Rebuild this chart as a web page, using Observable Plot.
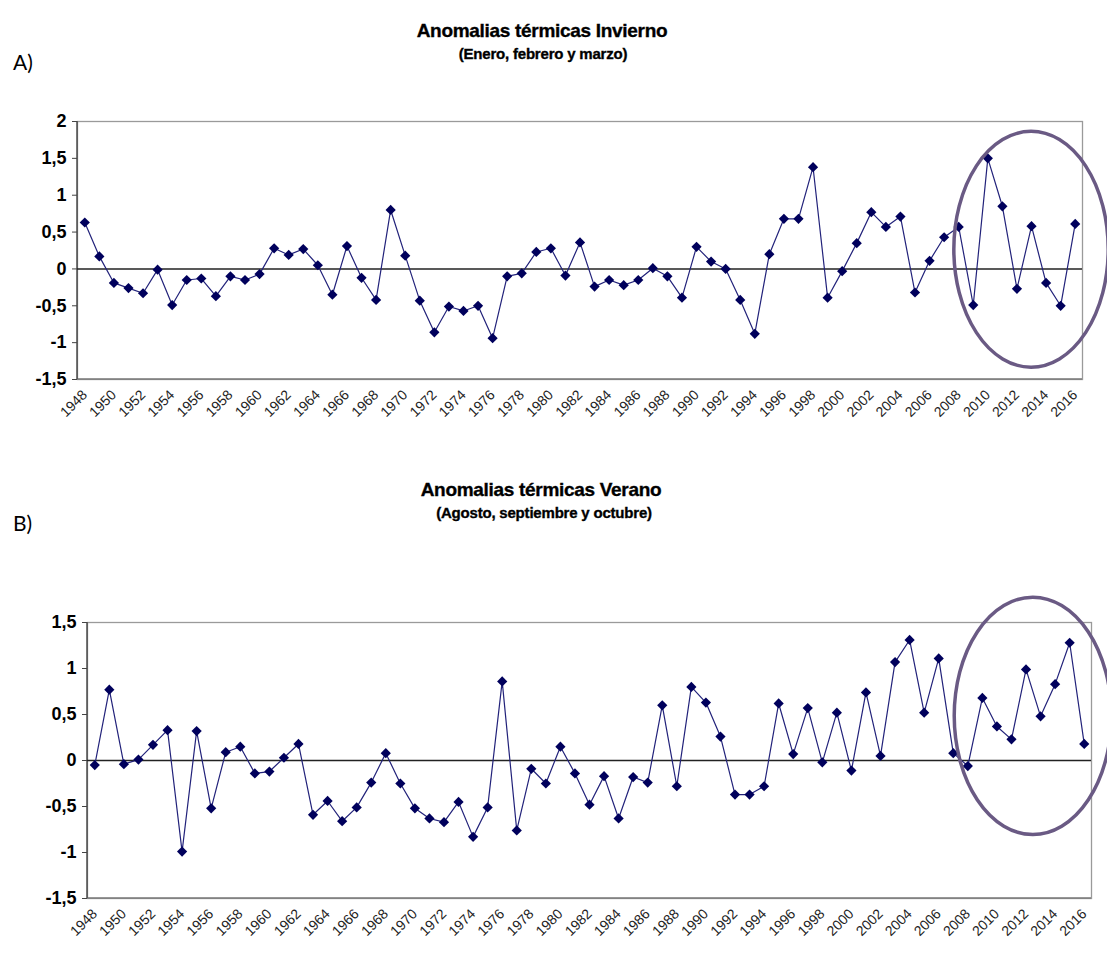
<!DOCTYPE html>
<html><head><meta charset="utf-8">
<script src="https://cdn.jsdelivr.net/npm/d3@7"></script>
<script src="https://cdn.jsdelivr.net/npm/@observablehq/plot@0.6"></script>
<style>
body{margin:0;background:#fff;}
#page{position:relative;width:1107px;height:956px;overflow:hidden;background:#fff;}
.t{position:absolute;white-space:nowrap;transform:translateX(-50%);font-family:"Liberation Sans",Arial,sans-serif;font-weight:bold;color:#000;line-height:1;-webkit-text-stroke:0.35px #000;}
.lab{position:absolute;font-family:Lato,"Open Sans",sans-serif;font-size:21px;color:#000;line-height:1;}
.chart{position:absolute;left:0;}
</style></head><body>
<div id="page">
  <div class="lab" id="labA" style="left:13px;top:51px"></div>
  <div class="t" id="titleA" style="left:542px;top:21px;font-size:19px;letter-spacing:-0.3px"></div>
  <div class="t" id="subA" style="left:543px;top:46px;font-size:15px;letter-spacing:-0.2px"></div>
  <div class="chart" id="chartA" style="top:100px"></div>
  <div class="lab" id="labB" style="left:13px;top:512px"></div>
  <div class="t" id="titleB" style="left:541px;top:480px;font-size:19px;letter-spacing:-0.3px"></div>
  <div class="t" id="subB" style="left:544px;top:505px;font-size:15px;letter-spacing:-0.2px"></div>
  <div class="chart" id="chartB" style="top:590px"></div>
</div>
<script>
// ---- Data ----
const years = [1948,1949,1950,1951,1952,1953,1954,1955,1956,1957,1958,1959,1960,1961,1962,1963,1964,1965,1966,1967,1968,1969,1970,1971,1972,1973,1974,1975,1976,1977,1978,1979,1980,1981,1982,1983,1984,1985,1986,1987,1988,1989,1990,1991,1992,1993,1994,1995,1996,1997,1998,1999,2000,2001,2002,2003,2004,2005,2006,2007,2008,2009,2010,2011,2012,2013,2014,2015,2016];
const xTickYears = [1948,1950,1952,1954,1956,1958,1960,1962,1964,1966,1968,1970,1972,1974,1976,1978,1980,1982,1984,1986,1988,1990,1992,1994,1996,1998,2000,2002,2004,2006,2008,2010,2012,2014,2016];

const invierno = [0.63,0.17,-0.19,-0.26,-0.33,-0.01,-0.49,-0.15,-0.13,-0.37,-0.10,-0.15,-0.07,0.28,0.19,0.27,0.05,-0.35,0.31,-0.12,-0.42,0.80,0.18,
  -0.43,-0.86,-0.51,-0.57,-0.50,-0.94,-0.10,-0.06,0.23,0.28,-0.09,0.36,-0.24,-0.15,-0.22,-0.15,0.01,-0.10,-0.39,0.30,0.10,0.00,-0.42,-0.88,0.20,
  0.68,0.68,1.38,-0.39,-0.03,0.35,0.77,0.57,0.71,-0.32,0.11,0.43,0.57,-0.49,1.50,0.85,-0.27,0.58,-0.19,-0.50,0.61];
const verano = [-0.05,0.77,-0.04,0.01,0.17,0.33,-0.99,0.32,-0.52,0.09,0.15,-0.14,-0.12,0.03,0.18,-0.59,-0.44,-0.66,-0.51,-0.24,0.08,-0.25,
  -0.52,-0.63,-0.67,-0.45,-0.83,-0.51,0.86,-0.76,-0.09,-0.25,0.15,-0.14,-0.48,-0.17,-0.63,-0.18,-0.24,0.60,-0.28,0.80,0.63,0.26,-0.37,-0.37,-0.28,
  0.62,0.07,0.57,-0.02,0.52,-0.11,0.74,0.05,1.07,1.31,0.52,1.11,0.08,-0.06,0.68,0.37,0.23,0.99,0.48,0.83,1.28,0.18];

const yTicksA = [-1.5,-1,-0.5,0,0.5,1,1.5,2];
const yTicksB = [-1.5,-1,-0.5,0,0.5,1,1.5];

const titleA = "Anomalias térmicas Invierno";
const subtitleA = "(Enero, febrero y marzo)";
const titleB = "Anomalias térmicas Verano";
const subtitleB = "(Agosto, septiembre y octubre)";
const panelA = "A)";
const panelB = "B)";

// highlighted period (ellipse), in data units: centre year / value and half extents
const highlightA = {year: 2013.0, value: 0.26, halfYears: 5.3, halfValue: 1.6};
const highlightB = {year: 2012.5, value: 0.48, halfYears: 5.4, halfValue: 1.29};

document.getElementById("labA").textContent = panelA;
document.getElementById("labB").textContent = panelB;
document.getElementById("titleA").textContent = titleA;
document.getElementById("subA").textContent = subtitleA;
document.getElementById("titleB").textContent = titleB;
document.getElementById("subB").textContent = subtitleB;

const fmt = d => String(d).replace(".", ",");
const yearFmt = d => String(d);

function ellipseMark(e) {
  return (index, scales, values, dims) => {
    const x = scales.x, y = scales.y;
    const step = x(years[1]) - x(years[0]);
    const cx = x(years[0]) + (e.year - years[0]) * step;
    const rx = e.halfYears * step;
    const cy = y(e.value);
    const ry = Math.abs(y(e.value + e.halfValue) - cy);
    return d3.create("svg:ellipse")
      .attr("cx", cx).attr("cy", cy).attr("rx", rx).attr("ry", ry)
      .attr("fill", "none").attr("stroke", "#6a5a84").attr("stroke-width", 3.5)
      .node();
  };
}
function axisLines(index, scales, values, dims) {
  const g = d3.create("svg:g");
  const l = dims.marginLeft, r = dims.width - dims.marginRight;
  const t = dims.marginTop, b = dims.height - dims.marginBottom;
  g.append("line").attr("x1", l).attr("x2", r).attr("y1", b).attr("y2", b).attr("stroke", "#7a7a7a").attr("stroke-width", 1.4);
  g.append("line").attr("x1", l).attr("x2", l).attr("y1", t).attr("y2", b).attr("stroke", "#444").attr("stroke-width", 1.4);
  return g.node();
}

function chart(vals, yTicks, yDomain, hl, m) {
  const data = years.map((year, i) => ({year, value: vals[i]}));
  return Plot.plot({
    width: 1107, height: m.height,
    marginTop: m.top, marginBottom: m.bottom, marginLeft: m.left, marginRight: m.right,
    style: {background: "transparent", fontFamily: "Liberation Sans, Arial, sans-serif"},
    x: {type: "point", domain: years, padding: 0.5, label: null},
    y: {domain: yDomain, label: null},
    marks: [
      Plot.frame({stroke: "#9a9a9a", strokeWidth: 1.3}),
      axisLines,
      Plot.ruleY([0], {stroke: "#222", strokeWidth: 1.6}),
      Plot.axisY({ticks: yTicks, tickFormat: fmt, tickSize: 5, tickPadding: 6, stroke: "#444",
        fontSize: 18, fontWeight: "bold", fontFamily: "Liberation Sans Narrow, Arial Narrow, Liberation Sans, sans-serif", fill: "#000", label: null}),
      Plot.axisX({ticks: xTickYears, tickFormat: yearFmt, tickSize: 0, tickPadding: 13, tickRotate: -45, fontSize: 14, fill: "#222", label: null}),
      Plot.line(data, {x: "year", y: "value", stroke: "#22227a", strokeWidth: 1.2}),
      Plot.dot(data, {x: "year", y: "value", symbol: "diamond2", r: 4.6, fill: "#00005c", stroke: "none"}),
      ellipseMark(hl)
    ]
  });
}

document.getElementById("chartA").append(
  chart(invierno, yTicksA, [-1.5, 2], highlightA, {height: 340, top: 21, bottom: 61, left: 77, right: 25}));
document.getElementById("chartB").append(
  chart(verano, yTicksB, [-1.5, 1.5], highlightB, {height: 366, top: 32, bottom: 58, left: 87, right: 16}));
</script>
</body></html>
